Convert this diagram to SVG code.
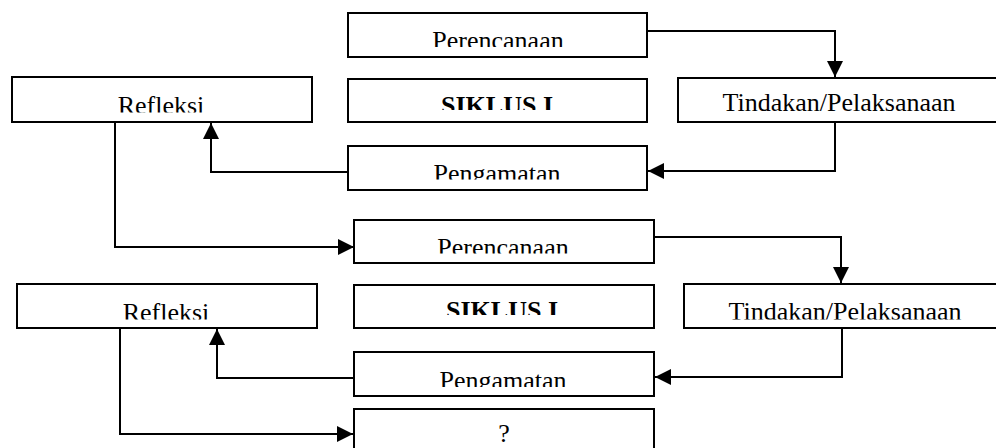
<svg xmlns="http://www.w3.org/2000/svg" width="996" height="448" viewBox="0 0 996 448">
<style>
.box{fill:#fff;stroke:#000;stroke-width:2}
.t{font-family:"Liberation Serif","Times New Roman",serif;font-size:26px;fill:#000;text-anchor:middle}
.b{font-weight:bold}
.c{fill:none;stroke:#000;stroke-width:2}
</style>
<defs>
<marker id="ah" markerUnits="userSpaceOnUse" markerWidth="16" markerHeight="16" viewBox="0 0 14 14" refX="14" refY="7" orient="auto">
<path d="M0,0 L14,7 L0,14 Z" fill="#000"/>
</marker>
<clipPath id="cP1"><rect x="348" y="13" width="299" height="34"/></clipPath>
<clipPath id="cS1"><rect x="348" y="79" width="299" height="31"/></clipPath>
<clipPath id="cR1"><rect x="12" y="77" width="300" height="35.5"/></clipPath>
<clipPath id="cT1"><rect x="678" y="78" width="330" height="34"/></clipPath>
<clipPath id="cG1"><rect x="348" y="146" width="299" height="33.5"/></clipPath>
<clipPath id="cP2"><rect x="354" y="220" width="300" height="33.5"/></clipPath>
<clipPath id="cS2"><rect x="354" y="285" width="300" height="30"/></clipPath>
<clipPath id="cR2"><rect x="17" y="284" width="300" height="35.5"/></clipPath>
<clipPath id="cT2"><rect x="684" y="284" width="330" height="35.5"/></clipPath>
<clipPath id="cG2"><rect x="354" y="352" width="300" height="35"/></clipPath>
</defs>
<rect width="996" height="448" fill="#fff"/>
<g id="connectors">
<polyline class="c" points="647,31 835,31 835,77" marker-end="url(#ah)"/>
<polyline class="c" points="835,122 835,171 648,171" marker-end="url(#ah)"/>
<polyline class="c" points="348,172 211,172 211,123" marker-end="url(#ah)"/>
<polyline class="c" points="115,122 115,247 354,247" marker-end="url(#ah)"/>
<polyline class="c" points="654,237 841,237 841,283" marker-end="url(#ah)"/>
<polyline class="c" points="842,328 842,377 655,377" marker-end="url(#ah)"/>
<polyline class="c" points="354,378 217,378 217,329" marker-end="url(#ah)"/>
<polyline class="c" points="120,328 120,434 353,434" marker-end="url(#ah)"/>
</g>
<g id="perencanaan1"><rect class="box" x="348" y="13" width="299" height="44"/><text class="t" x="498" y="49" clip-path="url(#cP1)">Perencanaan</text></g>
<g id="siklus1"><rect class="box" x="348" y="79" width="299" height="43"/><text class="t b" x="497" y="114" clip-path="url(#cS1)">SIKLUS I</text></g>
<g id="refleksi1"><rect class="box" x="12" y="77" width="300" height="45"/><text class="t" x="161" y="114" clip-path="url(#cR1)">Refleksi</text></g>
<g id="tindakan1"><rect class="box" x="678" y="78" width="330" height="44"/><text class="t" x="839" y="110.5" clip-path="url(#cT1)">Tindakan/Pelaksanaan</text></g>
<g id="pengamatan1"><rect class="box" x="348" y="146" width="299" height="44"/><text class="t" x="497" y="181.5" clip-path="url(#cG1)">Pengamatan</text></g>
<g id="perencanaan2"><rect class="box" x="354" y="220" width="300" height="43"/><text class="t" x="503" y="255.5" clip-path="url(#cP2)">Perencanaan</text></g>
<g id="siklus2"><rect class="box" x="354" y="285" width="300" height="43"/><text class="t b" x="502" y="319" clip-path="url(#cS2)">SIKLUS I</text></g>
<g id="refleksi2"><rect class="box" x="17" y="284" width="300" height="44"/><text class="t" x="166" y="320.5" clip-path="url(#cR2)">Refleksi</text></g>
<g id="tindakan2"><rect class="box" x="684" y="284" width="330" height="44"/><text class="t" x="845" y="320" clip-path="url(#cT2)">Tindakan/Pelaksanaan</text></g>
<g id="pengamatan2"><rect class="box" x="354" y="352" width="300" height="44"/><text class="t" x="503" y="389" clip-path="url(#cG2)">Pengamatan</text></g>
<g id="question"><rect class="box" x="354" y="409" width="300" height="50"/><text class="t" x="504" y="442">?</text></g>
</svg>
